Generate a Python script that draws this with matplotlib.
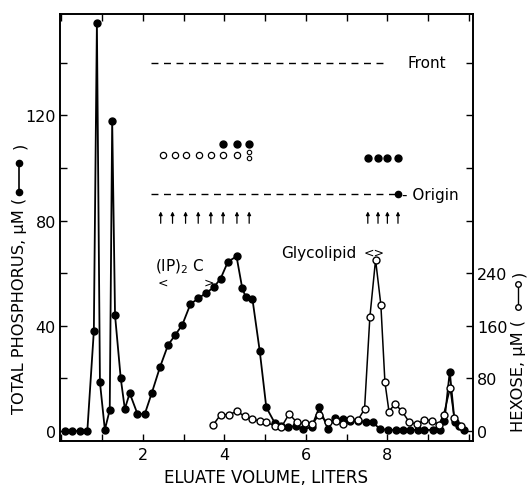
import matplotlib
matplotlib.use('Agg')
import matplotlib.pyplot as plt
from matplotlib.lines import Line2D
from matplotlib.ticker import FixedLocator, FuncFormatter

# total phosphorus (filled circles), uM
p_vol = [0.09, 0.27, 0.46, 0.64, 0.80, 0.875, 0.95, 1.07, 1.19, 1.25, 1.32, 1.46, 1.56, 1.68, 1.87, 2.05,
         2.22, 2.42, 2.62, 2.80, 2.97, 3.17, 3.36, 3.55, 3.74, 3.91, 4.09, 4.30, 4.44, 4.53, 4.69, 4.87, 5.03,
         5.24, 5.40, 5.56, 5.77, 5.93, 6.14, 6.33, 6.54, 6.71, 6.91, 7.08, 7.28, 7.47, 7.65, 7.81, 8.01, 8.20,
         8.38, 8.56, 8.75, 8.91, 9.12, 9.28, 9.40, 9.53, 9.65, 9.76, 9.87]
p_conc = [0, 0, 0, 0, 38, 155, 18.5, 0.5, 8, 118, 44, 20, 8.4, 14.4, 6.5, 6.5,
          14.4, 24.2, 32.7, 36.6, 40.4, 48.3, 50.4, 52.5, 54.6, 58, 64.4, 66.4, 54.3, 50.8, 50.2, 30.3, 9,
          3, 2, 1.4, 2, 0.8, 1.4, 9, 0.8, 4.8, 4.6, 3.9, 3.9, 3.3, 3.3, 0.8, 0.4, 0.4,
          0.4, 0.4, 0.4, 0.4, 0.4, 0.4, 3.9, 22.6, 3.3, 2, 0.4]

# hexose (open circles), uM
h_vol = [3.73, 3.91, 4.11, 4.31, 4.50, 4.69, 4.87, 5.03,
         5.24, 5.40, 5.59, 5.78, 5.97, 6.16, 6.32, 6.54, 6.73, 6.92,
         7.09, 7.28, 7.44, 7.57, 7.71, 7.84, 7.94, 8.04, 8.18, 8.35,
         8.54, 8.73, 8.91, 9.10, 9.26, 9.38, 9.54, 9.64, 9.81]
h_conc = [9.6, 24.8, 24.8, 30, 22.4, 18.3, 14.7, 13.2,
          8, 6, 25.9, 13.2, 11.6, 10.6, 24.3, 13, 15.7, 10.6,
          18, 17, 33.5, 173, 260.5, 192, 74, 29.4, 41, 31,
          13, 10.6, 17, 15.7, 9.6, 25, 65, 19.8, 8]

# thin layer chromatogram sketch (drawn in phosphorus units)
front_y = 140
origin_y = 90
tlc_start, front_end, origin_end = 2.2, 8.0, 8.26
ip_open_x = [2.49, 2.78, 3.07, 3.37, 3.67, 3.96, 4.30]
ip_open_y = 105
ip_double_x = 4.60
ip_filled_x = [3.96, 4.30, 4.60]
ip_filled_y = 109
ip_arrow_x = [2.44, 2.73, 3.05, 3.36, 3.67, 3.97, 4.31, 4.61]
gl_x = [7.52, 7.77, 8.0, 8.26]
gl_filled_y = 104
arrow_y = 79

fs = 11
lab_fs = 11.7
plt.rcParams['font.family'] = 'DejaVu Sans'

fig = plt.figure(figsize=(5.3, 4.89), dpi=100)
ax = fig.add_axes([60 / 530, 47 / 489, 413 / 530, 427 / 489])
ax2 = ax.twinx()

ax.plot(p_vol, p_conc, '-o', color='k', lw=1.3, ms=5)
ax2.plot(h_vol, h_conc, '-o', color='k', lw=1.1, ms=5, mfc='white', mec='k', mew=1.0)

ax.set_xlim(-0.03, 10.1)
ax.set_ylim(-3.8, 158.6)
ax2.set_ylim(-15.2, 634.4)

ax.xaxis.set_major_locator(FixedLocator(range(0, 11)))
ax.xaxis.set_major_formatter(FuncFormatter(lambda v, p: f'{int(v)}' if v in (2, 4, 6, 8) else ''))
ax.yaxis.set_major_locator(FixedLocator(range(0, 141, 20)))
ax.yaxis.set_major_formatter(FuncFormatter(lambda v, p: f'{int(v)}' if v % 40 == 0 else ''))
ax2.yaxis.set_major_locator(FixedLocator(range(0, 561, 80)))
ax2.yaxis.set_major_formatter(FuncFormatter(lambda v, p: f'{int(v)}' if v <= 240 else ''))

ax.tick_params(axis='x', direction='in', top=True, length=5, width=1, labelsize=fs + 0.5, pad=4)
ax.tick_params(axis='y', direction='in', right=False, length=5, width=1, labelsize=fs + 0.5, pad=3)
ax2.tick_params(axis='y', direction='in', length=5, width=1, labelsize=fs + 0.5, pad=3)
for a in (ax, ax2):
    for s in a.spines.values():
        s.set_linewidth(1.2)

ax.set_xlabel('ELUATE VOLUME, LITERS', fontsize=12, labelpad=5)

# TLC lines and spots
ax.plot([tlc_start, front_end], [front_y, front_y], color='k', lw=1, dashes=(5, 4))
ax.plot([tlc_start, origin_end], [origin_y, origin_y], color='k', lw=1, dashes=(5, 4))
ax.plot([origin_end], [origin_y], 'o', color='k', ms=4.5)
ax.text(8.5, front_y, 'Front', fontsize=fs, va='center', ha='left')
ax.text(8.36, origin_y, '- Origin', fontsize=fs, va='center', ha='left')

ax.plot(ip_open_x, [ip_open_y] * len(ip_open_x), 'o', ms=4.5, mfc='white', mec='k', mew=0.9)
ax.plot([ip_double_x, ip_double_x], [ip_open_y - 1.3, ip_open_y + 1.3], 'o', ms=3.2,
        mfc='white', mec='k', mew=0.8)
ax.plot(ip_filled_x, [ip_filled_y] * len(ip_filled_x), 'o', ms=5, color='k')
ax.plot(gl_x, [gl_filled_y] * len(gl_x), 'o', ms=5, color='k')

for x in ip_arrow_x + gl_x:
    ax.annotate('', xy=(x, arrow_y + 4.5), xytext=(x, arrow_y),
                arrowprops=dict(arrowstyle='-|>', lw=0.9, color='k', mutation_scale=5,
                                shrinkA=0, shrinkB=0))

ax.text(2.9, 63, r'(IP)$_2$ C', fontsize=fs, ha='center', va='center')
ax.text(2.49, 56.6, '<', fontsize=9, ha='center', va='center')
ax.text(3.62, 56.6, '>', fontsize=9, ha='center', va='center')
ax.text(7.25, 68, 'Glycolipid', fontsize=fs, ha='right', va='center')
ax.text(7.68, 68, '<>', fontsize=9, ha='center', va='center')

# y-axis labels with legend symbols
fig.text(20 / 530, 1 - 414 / 489, 'TOTAL PHOSPHORUS, μM (', rotation=90, fontsize=lab_fs,
         ha='center', va='bottom')
fig.text(20 / 530, 1 - 146 / 489, ')', rotation=90, fontsize=lab_fs, ha='center', va='center')
fig.add_artist(Line2D([19 / 530, 19 / 530], [1 - 193 / 489, 1 - 164 / 489], color='k', lw=1.2,
                      marker='o', ms=4.5, transform=fig.transFigure))

fig.text(519 / 530, 1 - 432 / 489, 'HEXOSE, μM (', rotation=90, fontsize=lab_fs,
         ha='center', va='bottom')
fig.text(519 / 530, 1 - 274 / 489, ')', rotation=90, fontsize=lab_fs, ha='center', va='center')
fig.add_artist(Line2D([518 / 530, 518 / 530], [1 - 308 / 489, 1 - 285 / 489], color='k', lw=1.0,
                      marker='o', ms=4, mfc='white', mec='k', transform=fig.transFigure))

fig.savefig('out.png', dpi=100)
